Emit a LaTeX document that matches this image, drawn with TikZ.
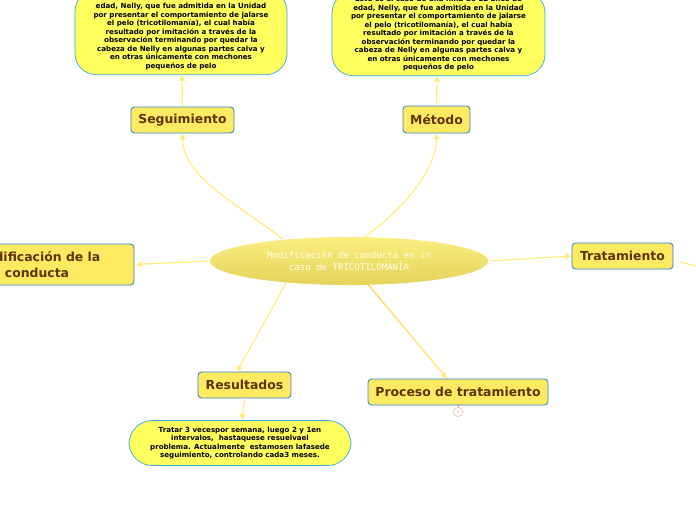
\documentclass[tikz,border=0pt]{standalone}
\usepackage{fontspec}
\setmainfont{DejaVu Sans}
\setmonofont{DejaVu Sans Mono}
\usetikzlibrary{arrows.meta, shapes.geometric}
\definecolor{linkyellow}{HTML}{FFEC7A}
\definecolor{topicfill}{HTML}{FFEB62}
\definecolor{topicline}{HTML}{2F7FD0}
\definecolor{topictext}{HTML}{5F3300}
\definecolor{notefill}{HTML}{FFFF5E}
\definecolor{noteline}{HTML}{35A8E0}
\definecolor{centraltop}{HTML}{FBEE80}
\definecolor{centralbottom}{HTML}{E4D35A}
\newcommand{\notetext}{Este es el caso de una niña de 12 años de\\edad, Nelly, que fue admitida en la Unidad\\por presentar el comportamiento de jalarse\\el pelo (tricotilomanía), el cual había\\resultado por imitación a través de la\\observación terminando por quedar la\\cabeza de Nelly en algunas partes calva y\\en otras únicamente con mechones\\pequeños de pelo}
\begin{document}
\begin{tikzpicture}[
		x=0.03cm, y=-0.03cm,
		topic/.style={rectangle, draw=topicline, fill=topicfill, line width=0.7pt, rounded corners=3pt, text=topictext, font=\bfseries\fontsize{10.6}{13}\selectfont, align=center, inner sep=0pt},
		note/.style={rectangle, draw=noteline, fill=notefill, line width=0.6pt, rounded corners=18pt, text=black, font=\bfseries\fontsize{6.05}{7.27}\selectfont, align=center, inner sep=0pt},
		link/.style={-{Latex[length=5pt,width=6pt]}, linkyellow, line width=1pt}
	]
		\useasboundingbox (0,0) rectangle (696,520);
		\clip (0,0) rectangle (696,520);
		\node[ellipse, top color=centraltop, bottom color=centralbottom, minimum width=8.34cm, minimum height=1.44cm, inner sep=0pt, text=white!90!yellow, font=\ttfamily\fontsize{7.75}{10}\selectfont, align=center] (central) at (349,261) {Modificación de conducta en in\\caso de TRICOTILOMANÍA};
		\node[topic, minimum width=3.09cm, minimum height=0.78cm] (seguimiento) at (182.5,120) {Seguimiento};
		\node[topic, minimum width=2.01cm, minimum height=0.81cm] (metodo) at (436.5,119.5) {Método};
		\node[topic, minimum width=5.82cm, minimum height=1.23cm] (modificacion) at (37,264.5) {Modificación de la\\conducta};
		\node[topic, minimum width=3.03cm, minimum height=0.78cm] (tratamiento) at (622.5,256) {Tratamiento};
		\node[topic, minimum width=2.79cm, minimum height=0.78cm] (resultados) at (244.5,385) {Resultados};
		\node[topic, minimum width=5.40cm, minimum height=0.78cm] (proceso) at (458,392) {Proceso de tratamiento};
		\node[note, minimum width=6.36cm, minimum height=2.535cm, anchor=south] (notaseg) at (181,75) {\notetext};
		\node[note, minimum width=6.39cm, minimum height=2.52cm, anchor=south] (notamet) at (438.5,76) {\notetext};
		\node[note, minimum width=6.66cm, minimum height=1.35cm, rounded corners=20pt] (notares) at (240,443) {Tratar 3 vecespor semana, luego 2 y 1en\\intervalos,\ \ hastaquese resuelvael\\problema. Actualmente\ \ estamosen lafasede\\seguimiento, controlando cada3 meses.};
		\node[circle, draw=red!35, text=red!45, line width=0.4pt, minimum size=0.28cm, inner sep=0pt, font=\fontsize{3.5}{4}\selectfont] (marca) at (458,412) {3};
		\coordinate (salida) at (696,266);
		\draw[link] (central.162) to[out=140, in=-90, looseness=0.8] (seguimiento.south);
		\draw[link] (central.57) to[out=35, in=-90, looseness=0.8] (metodo.south);
		\draw[link, shorten <=1pt, shorten >=1pt] (central.west) -- (modificacion.east);
		\draw[link, shorten <=2pt] (central.east) -- (tratamiento.west);
		\draw[link, -] ([xshift=0.21cm, yshift=-0.18cm]tratamiento.east) -- (salida);
		\draw[link] (central.-161) -- ([xshift=-0.225cm]resultados.north);
		\draw[orange!80, line width=0.7pt] (central.-51) -- ([xshift=-0.33cm]proceso.north);
		\draw[link] ([xshift=0.02cm]central.-51) -- ([xshift=-0.33cm]proceso.north);
		\draw[link] (resultados.south) -- ([xshift=0.06cm]notares.north);
		\draw[link] (seguimiento.north) -- ([xshift=0.03cm]notaseg.south);
		\draw[link] (metodo.north) -- ([xshift=-0.045cm]notamet.south);
		\draw[red!60, line width=0.4pt] (proceso.south) -- (marca);
	\end{tikzpicture}
\end{document}
